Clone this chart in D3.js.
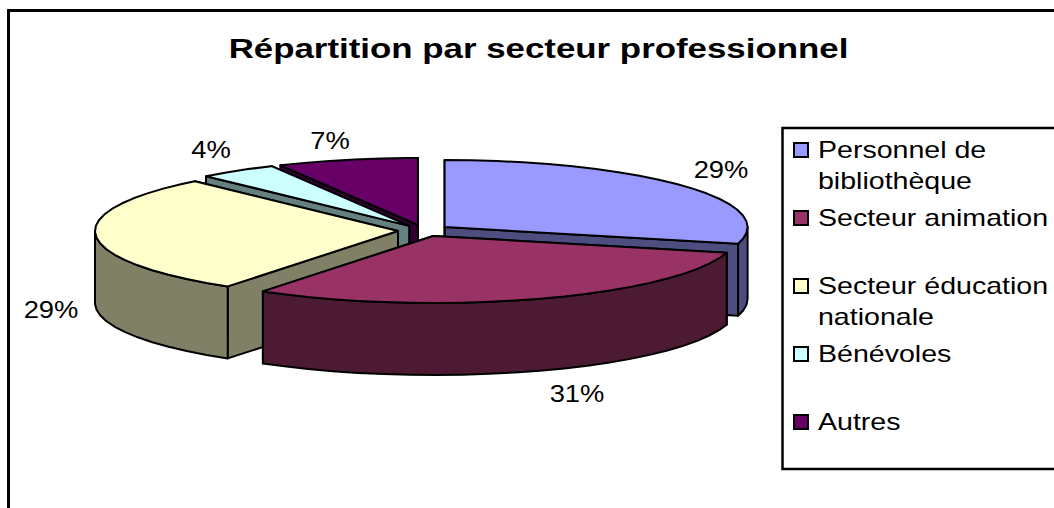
<!DOCTYPE html>
<html>
<head>
<meta charset="utf-8">
<script src="https://d3js.org/d3.v7.min.js"></script>
<style>
  html, body { margin: 0; padding: 0; background: #fff; }
  svg { display: block; }
  text { font-family: "Liberation Sans", Arial, sans-serif; fill: #000; }
</style>
</head>
<body>
<svg id="chart" width="1054" height="508"></svg>
<script>
// ── Data ──────────────────────────────────────────────────────────────────────
const categories = ['Personnel de bibliothèque', 'Secteur animation', 'Secteur éducation nationale', 'Bénévoles', 'Autres'];
const values     = [29.0, 30.5, 28.8, 4.2, 7.5];
const labels     = ['29%', '31%', '29%', '4%', '7%'];
const colors     = ['#9999ff', '#993366', '#ffffcc', '#ccffff', '#660066'];
const legendRows = [['Personnel de', 'bibliothèque'], ['Secteur animation'], ['Secteur éducation', 'nationale'], ['Bénévoles'], ['Autres']];
const title      = 'Répartition par secteur professionnel';

// ── Config ────────────────────────────────────────────────────────────────────
const CX = 424, CY = 230.6, RX = 303, RY = 67;
const DEPTH   = 72;
const EXPLODE = 0.086;
const STEP    = Math.PI / 36;       // the original outline is a coarse polygon
const STRETCH = 1.19;               // text in the reference is wider than tall
const LABEL_POS = [[721, 178], [577, 402], [51, 318], [211, 158], [330, 149]];
const DRAW_ORDER = [4, 3, 0, 2, 1]; // back to front

const svg = d3.select('#chart');

// Outer frame: open at the bottom and on the right, like the reference
svg.append('path')
  .attr('d', 'M8.5,508V10.5H1054')
  .attr('fill', 'none').attr('stroke', '#000').attr('stroke-width', 3);

function stretchedText(parent, str, x, y, size, anchor, weight, sx) {
  return parent.append('text')
    .attr('transform', `translate(${x},${y}) scale(${sx || STRETCH},1)`)
    .attr('font-size', size)
    .attr('font-weight', weight || 'normal')
    .attr('text-anchor', anchor)
    .text(str);
}

stretchedText(svg, title, 538.5, 58, 28, 'middle', 'bold', 1.245);

// ── Pie ───────────────────────────────────────────────────────────────────────
const arcs = d3.pie().sort(null)(values);
const line = d3.line();

function project(slice, a, r) {
  const mid = (slice.startAngle + slice.endAngle) / 2;
  return [
    CX + RX * (EXPLODE * Math.sin(mid) + r * Math.sin(a)),
    CY - RY * (EXPLODE * Math.cos(mid) + r * Math.cos(a))
  ];
}

function rimAngles(a0, a1) {
  const out = d3.range(a0, a1, STEP);
  out.push(a1);
  return out;
}

function drop(p) { return [p[0], p[1] + DEPTH]; }

function wallColor(c) {
  const rgb = d3.rgb(c);
  return d3.rgb(rgb.r / 2, rgb.g / 2, rgb.b / 2).formatHex();
}

const pie = svg.append('g').attr('stroke', '#000').attr('stroke-width', 2).attr('stroke-linejoin', 'round');

DRAW_ORDER.forEach(i => {
  const s = arcs[i];
  const apex = project(s, 0, 0);
  const wall = wallColor(colors[i]);

  // Radial walls: end side first, the start side can sit in front of it
  [s.endAngle, s.startAngle].forEach(a => {
    const rim = project(s, a, 1);
    pie.append('path')
      .attr('d', line([apex, rim, drop(rim), drop(apex)]) + 'Z')
      .attr('fill', wall);
  });

  // Outer wall: only the front half of the rim shows
  const a0 = Math.max(s.startAngle, Math.PI / 2);
  const a1 = Math.min(s.endAngle, Math.PI * 1.5);
  if (a1 > a0) {
    const top = rimAngles(a0, a1).map(a => project(s, a, 1));
    pie.append('path')
      .attr('d', line(top.concat(top.map(drop).reverse())) + 'Z')
      .attr('fill', wall);
  }

  // Top face
  const rim = rimAngles(s.startAngle, s.endAngle).map(a => project(s, a, 1));
  pie.append('path')
    .attr('d', line([apex].concat(rim)) + 'Z')
    .attr('fill', colors[i]);
});

// ── Percent labels ────────────────────────────────────────────────────────────
labels.forEach((l, i) => {
  stretchedText(svg, l, LABEL_POS[i][0], LABEL_POS[i][1], 23, 'middle');
});

// ── Legend ────────────────────────────────────────────────────────────────────
const legend = svg.append('g');
legend.append('path')
  .attr('d', 'M1054,128H782.5V469H1054')
  .attr('fill', '#fff').attr('stroke', '#000').attr('stroke-width', 2.5);

const rowY = d3.scalePoint().domain(categories).range([150, 422]);

categories.forEach((c, i) => {
  const y = rowY(c);
  legend.append('rect')
    .attr('x', 794).attr('y', y - 7).attr('width', 14).attr('height', 14)
    .attr('fill', colors[i]).attr('stroke', '#000').attr('stroke-width', 2);
  legendRows[i].forEach((t, k) => {
    stretchedText(legend, t, 818, y + 8 + k * 31, 24, 'start');
  });
});
</script>
</body>
</html>
